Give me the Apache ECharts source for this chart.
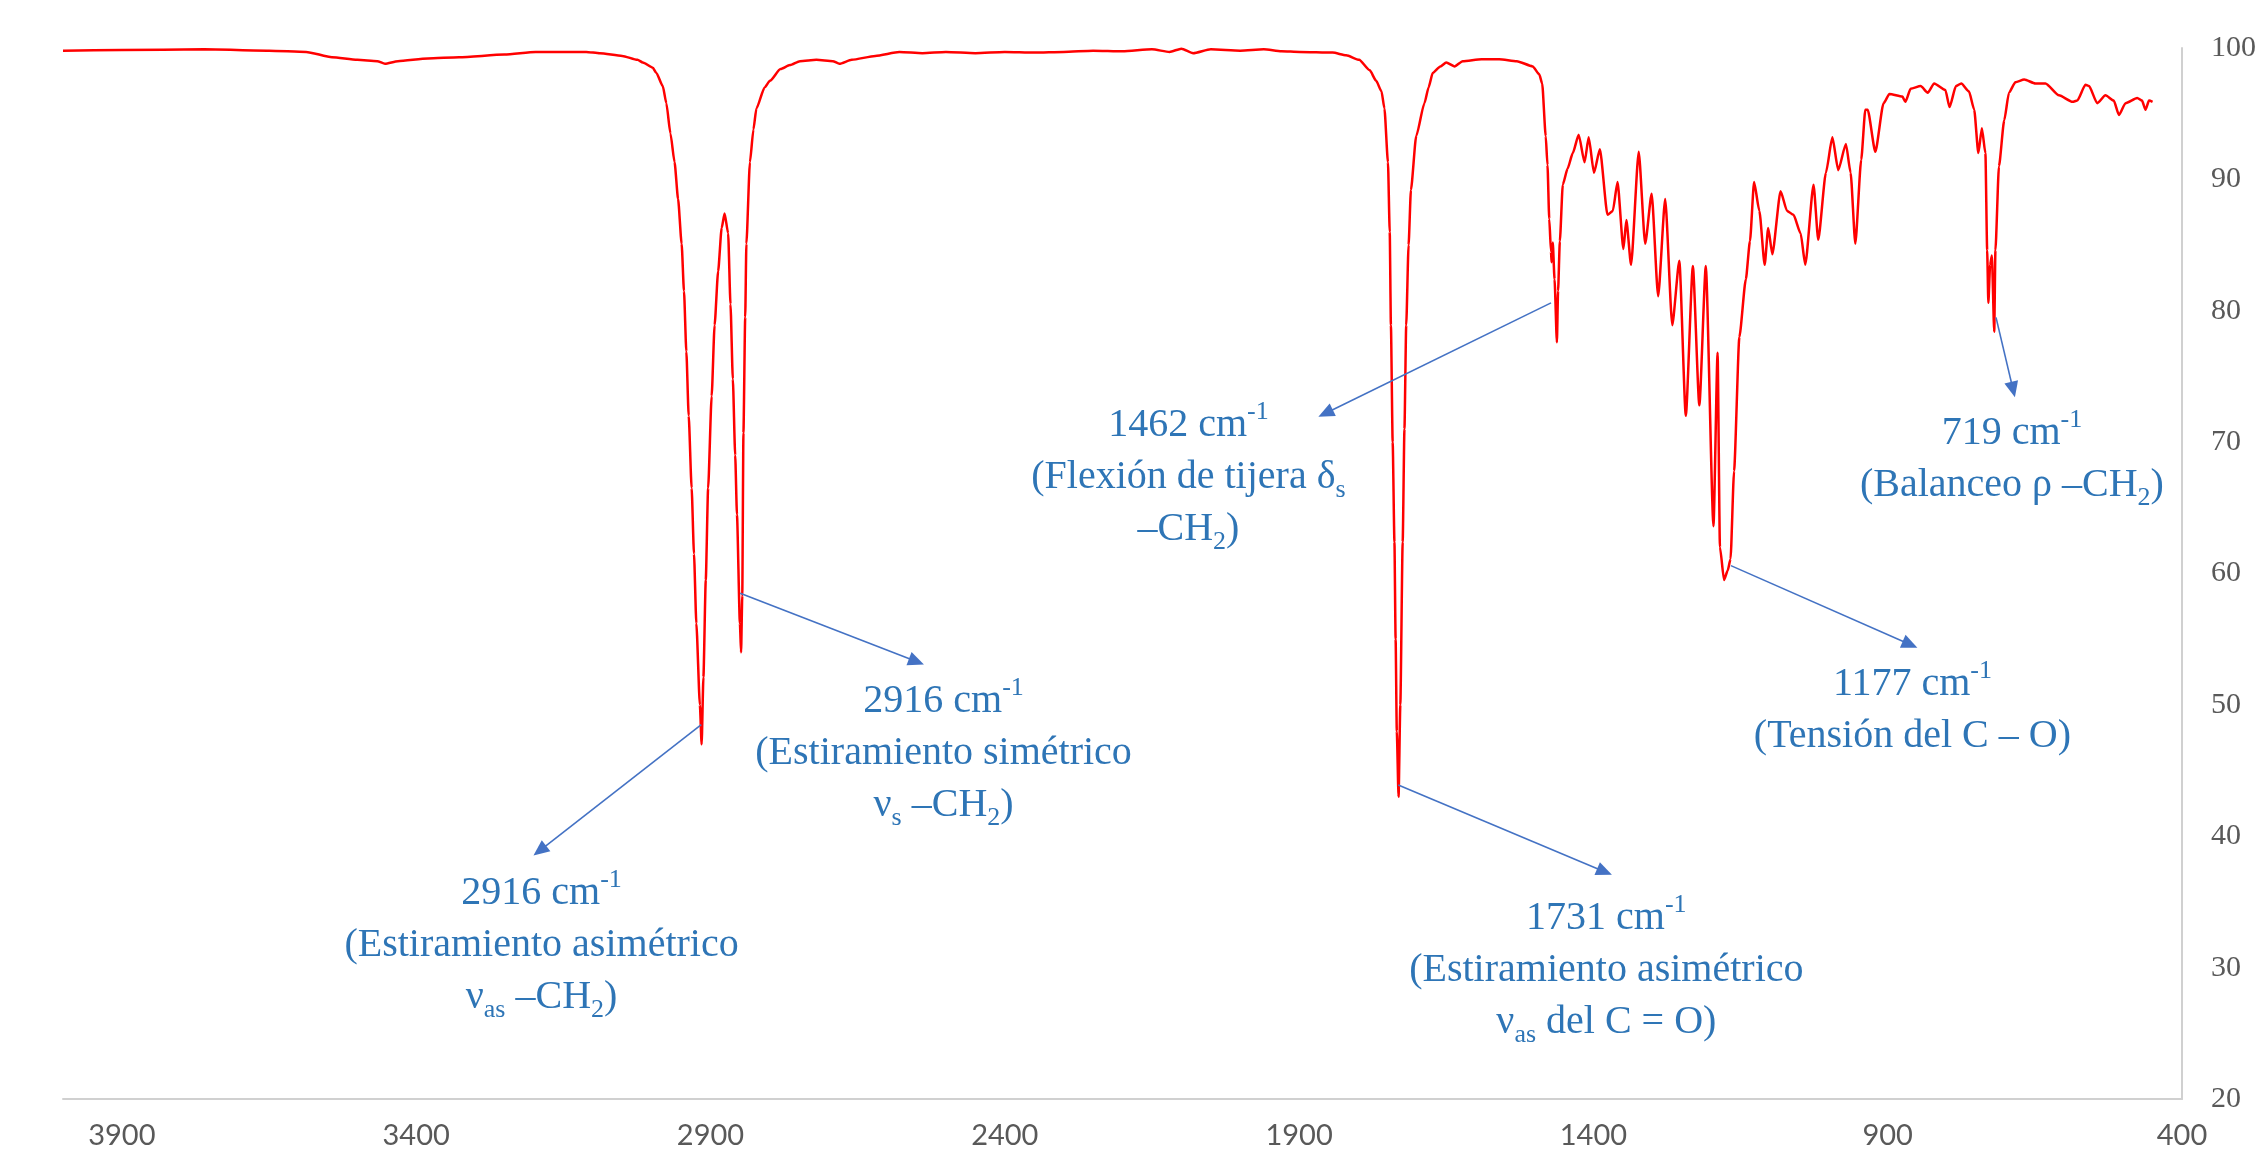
<!DOCTYPE html>
<html>
<head>
<meta charset="utf-8">
<script src="https://cdn.jsdelivr.net/npm/echarts@6/dist/echarts.min.js"></script>
<style>
html,body{margin:0;padding:0;background:#fff;}
#chart{width:2259px;height:1158px;}
</style>
</head>
<body>
<div id="chart"></div>
<script>
// ---- Data ----
const wavenumber = [4000,3900,3760,3650,3587,3543,3500,3466,3453,3431,3380,3327,3250,3197,3111,3088,3050,3024,3015,2998,2992,2981,2975,2968,2961,2955,2949,2945,2941,2937,2932,2928,2924,2918,2915,2912,2908,2904,2898,2893,2887,2881,2876,2870,2866,2862,2858,2855,2850,2848,2846,2844,2841,2839,2833,2827,2822,2808,2799,2781,2765,2748,2720,2692,2681,2660,2620,2579,2540,2500,2450,2400,2350,2300,2250,2200,2150,2120,2100,2080,2050,2000,1960,1930,1899,1843,1820,1798,1780,1769,1760,1755,1749,1746,1744,1741,1738,1736,1734,1731,1728,1724,1721,1718,1714,1710,1701,1687,1680,1673,1660,1650,1636,1622,1590,1560,1530,1503,1492,1487,1481,1478,1475,1472,1471,1469,1466,1462,1460,1457,1452,1444,1435,1425,1415,1408,1399,1389,1376,1367,1359,1349,1344,1336,1323,1312,1301,1290,1278,1266,1254,1243,1231,1220,1209,1196,1189,1185,1178,1172,1167,1161,1152,1141,1134,1127,1118,1109,1103,1096,1082,1071,1060,1048,1040,1026,1018,1005,994,984,971,963,955,945,938,934,921,907,897,875,870,861,844,832,821,802,795,784,775,762,753,746,740,734,731,729,726,723,719,717,711,702,694,683,668,649,632,609,586,578,564,558,544,530,516,507,496,476,468,462,456,450];
const transmittance = [99.8,99.85,99.9,99.8,99.7,99.3,99.1,99.0,98.8,99.0,99.2,99.3,99.5,99.7,99.7,99.6,99.4,99.1,98.9,98.5,98.1,97.1,95.8,93.5,91.3,88.5,85.1,81.5,76.9,72,66.5,61.5,56.2,50.0,47.0,52.1,59.5,66.5,73.5,78.9,83,86.3,87.4,85.9,80.5,74.8,69,64.5,56.2,54.0,58.3,70.7,79.5,85.1,91.3,93.8,95.4,97.0,97.5,98.4,98.7,99.0,99.1,99.0,98.8,99.1,99.4,99.7,99.6,99.7,99.6,99.7,99.65,99.7,99.8,99.75,99.9,99.7,99.95,99.6,99.9,99.8,99.9,99.75,99.7,99.65,99.45,99.1,98.3,97.5,96.7,95.4,91.3,86,78.9,70,62.4,55,48.0,43.0,50.0,62.4,71,78.9,85,89.2,93.3,95.8,97,98.1,98.6,98.9,98.6,99.0,99.15,99.15,99.0,98.6,98.0,97.3,93.3,91.1,87,84.5,83.7,85.2,82.4,77.6,81.5,85.3,89.6,90.8,92.0,93.4,91.3,93.2,90.5,92.3,87.3,87.6,89.8,84.7,86.9,83.5,92.1,85.1,88.9,81.1,88.5,78.9,83.8,72.0,83.4,72.8,83.4,63.6,76.8,62.0,59.5,60.2,61.1,67.8,78.0,82.4,85.3,89.8,87.6,83.5,86.3,84.3,89.1,87.6,87.3,85.9,83.5,89.6,85.4,90.5,93.2,90.7,92.7,90.5,85.1,91.5,95.3,95.3,92.1,95.8,96.5,96.3,95.9,96.9,97.1,96.6,97.3,96.8,95.5,97.1,97.3,96.7,95.3,92.0,93.9,92.0,84.6,80.6,83.5,84.2,78.4,84.6,91.0,94.5,96.6,97.4,97.6,97.3,97.3,96.4,95.9,96.0,97.2,97.1,95.8,96.4,96.0,94.9,95.8,96.2,96.0,95.3,96.0,95.9];

const xTicks = {min: 400, max: 4000, interval: 500};
const yTicks = {min: 20, max: 100, interval: 10};

const annotationTexts = [
  '2916 cm{sup|-1}\n(Estiramiento asimétrico\nν{sub|as} –CH{sub|2})',
  '2916 cm{sup|-1}\n(Estiramiento simétrico\nν{sub|s} –CH{sub|2})',
  '1462 cm{sup|-1}\n(Flexión de tijera δ{sub|s}\n–CH{sub|2})',
  '1731 cm{sup|-1}\n(Estiramiento asimétrico\nν{sub|as} del C = O)',
  '1177 cm{sup|-1}\n(Tensión del C – O)',
  '719 cm{sup|-1}\n(Balanceo ρ –CH{sub|2})'
];

// ---- Layout of annotations (in data units) ----
const labelAnchors = [[3187,31.7],[2504,46.3],[2088,67.3],[1378,29.8],[858,49.6],[689,68.7]];
const arrowFrom = [[2915.6,48.5],[2849.5,58.5],[1472,80.6],[1731.5,43.9],[1166.4,60.6],[716,79.5]];
const arrowTo   = [[3190,38.9],[2550,53.3],[1855,72.2],[1381,37.3],[862,54.6],[687,74.0]];

const SERIF = '"Liberation Serif","Times New Roman",serif';
const BLUE = '#2E75B6';

const data = wavenumber.map((w, i) => [w, transmittance[i]]);

const chart = echarts.init(document.getElementById('chart'), null, {renderer: 'canvas'});
chart.setOption({
  animation: false,
  backgroundColor: '#ffffff',
  grid: {left: 63, right: 76, top: 48, bottom: 59},
  xAxis: {
    type: 'value', inverse: true,
    min: xTicks.min, max: xTicks.max, interval: xTicks.interval,
    axisLine: {show: true, onZero: false, lineStyle: {color: '#D0D0D0', width: 2}},
    axisTick: {show: false},
    splitLine: {show: false},
    axisLabel: {showMaxLabel: false, margin: 22, color: '#595959', fontSize: 29,
      fontFamily: 'Lato, "Open Sans", sans-serif', formatter: v => String(v)}
  },
  yAxis: {
    type: 'value', position: 'right',
    min: yTicks.min, max: yTicks.max, interval: yTicks.interval,
    axisLine: {show: true, onZero: false, lineStyle: {color: '#D0D0D0', width: 2}},
    axisTick: {show: false},
    splitLine: {show: false},
    axisLabel: {margin: 29, color: '#595959', fontSize: 30, fontFamily: SERIF, formatter: v => String(v)}
  },
  series: [{
    type: 'line',
    data: data,
    symbol: 'none',
    showSymbol: false,
    smooth: 0.2,
    smoothMonotone: 'x',
    lineStyle: {color: '#FF0000', width: 2.5},
    silent: true,
    markLine: {
      silent: true,
      symbol: ['none', 'triangle'],
      symbolSize: [14, 16],
      label: {show: false},
      lineStyle: {color: '#4472C4', width: 1.6, type: 'solid'},
      emphasis: {disabled: true},
      data: arrowFrom.map((f, i) => [{coord: f}, {coord: arrowTo[i]}])
    },
    markPoint: {
      silent: true,
      symbol: 'circle',
      symbolSize: 1,
      itemStyle: {color: 'rgba(0,0,0,0)'},
      label: {
        show: true,
        position: 'inside',
        align: 'center',
        verticalAlign: 'middle',
        formatter: p => p.name,
        color: BLUE,
        fontSize: 40,
        lineHeight: 52,
        fontFamily: SERIF,
        rich: {
          sup: {fontSize: 26, lineHeight: 44, verticalAlign: 'top', color: BLUE, fontFamily: SERIF},
          sub: {fontSize: 26, lineHeight: 28, verticalAlign: 'bottom', color: BLUE, fontFamily: SERIF}
        }
      },
      data: labelAnchors.map((c, i) => ({name: annotationTexts[i], coord: c}))
    }
  }]
});
</script>
</body>
</html>
